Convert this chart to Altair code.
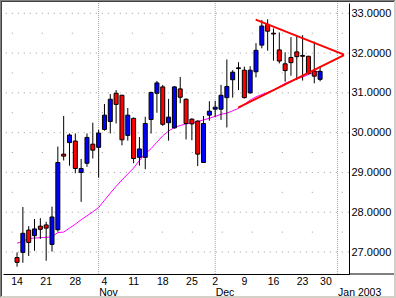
import altair as alt
import pandas as pd

# ---- data (trading-day index 0 = Oct 14, 2002) ----
opens = [26.86, 26.99, 27.55, 27.41, 27.65, 27.68, 27.19, 27.56, 29.46, 29.75,
         29.79, 29.00, 29.23, 29.71, 29.63, 30.08, 30.28, 30.99, 30.94, 29.93,
         30.36, 29.38, 29.38, 30.33, 30.99, 31.15, 30.25, 30.12, 31.10, 30.84,
         30.34, 30.29, 29.25, 30.44, 30.59, 30.59, 30.88, 31.33, 31.63, 31.57,
         31.00, 31.53, 32.20, 32.72, 32.50, 32.08, 31.73, 31.89, 32.03, 31.94,
         31.92, 31.55, 31.34]
highs = [26.99, 28.13, 27.65, 27.83, 27.85, 27.76, 28.14, 29.65, 30.42, 29.98,
         29.98, 29.34, 29.98, 30.25, 30.07, 30.72, 30.97, 31.07, 30.95, 30.62,
         30.38, 29.89, 30.40, 31.03, 31.30, 31.20, 30.85, 31.17, 31.40, 30.86,
         30.36, 30.31, 30.42, 30.79, 30.80, 31.20, 31.84, 31.57, 31.77, 31.66,
         31.67, 32.25, 32.83, 32.85, 32.62, 32.52, 32.02, 32.40, 32.44, 32.45,
         31.93, 32.29, 31.66]
lows = [26.63, 26.73, 26.90, 27.03, 27.33, 26.78, 27.01, 27.51, 29.30, 29.17,
        28.98, 28.26, 29.14, 29.35, 28.87, 30.05, 29.98, 30.23, 29.68, 29.80,
        29.23, 29.17, 29.08, 29.98, 30.50, 30.17, 29.80, 30.10, 30.74, 29.83,
        29.81, 29.16, 29.24, 30.30, 30.40, 30.32, 30.13, 30.88, 31.07, 30.86,
        30.98, 31.39, 32.12, 32.06, 31.81, 31.74, 31.28, 31.43, 31.32, 31.31,
        31.46, 31.24, 31.29]
closes = [26.74, 27.47, 27.24, 27.58, 27.57, 27.60, 27.88, 29.25, 29.41, 29.94,
          29.10, 29.10, 29.88, 29.56, 29.99, 30.44, 30.84, 30.71, 29.82, 30.44,
          29.35, 29.59, 30.23, 31.01, 31.25, 30.21, 30.39, 31.15, 30.89, 30.23,
          30.22, 29.46, 30.23, 30.54, 30.64, 30.94, 31.16, 31.52, 31.61, 30.88,
          31.57, 32.07, 32.68, 32.55, 32.48, 31.80, 31.56, 31.76, 31.91, 31.92,
          31.49, 31.42, 31.54]
ma = [27.22, 27.27, 27.34, 27.35, 27.36, 27.37, 27.38, 27.49, 27.50, 27.60,
      27.70, 27.81, 27.91, 28.01, 28.12, 28.30, 28.48, 28.65, 28.81, 28.96,
      29.11, 29.30, 29.47, 29.60, 29.76, 29.92, 30.04, 30.13, 30.18, 30.22,
      30.24, 30.28, 30.32, 30.36, 30.41, 30.46, 30.49, 30.55, 30.61, 30.71,
      30.82, 30.90, 30.96, 31.01, 31.07, 31.15, 31.24, 31.30, 31.35, 31.40,
      31.46, 31.52, 31.55]

tick_idx = [0, 5, 10, 15, 20, 25, 30, 34, 39, 44, 49, 53]
tick_labels = ["14", "21", "28", "4", "11", "18", "25", "2", "9", "16", "23", "30"]
month_idx = [14, 34, 55]
month_labels = ["Nov", "Dec", "Jan 2003"]

upper_x = [40.95, 56.1]
upper_y = [32.84, 31.96]
lower_x = [37.95, 56.1]
lower_y = [30.63, 31.95]

y_labels = [27, 28, 29, 30, 31, 32, 33]
half_levels = [27.5, 28.5, 29.5, 30.5, 31.5, 32.5]

W, H = 346, 271
FONT = "Liberation Sans"

# ---- tables ----
candles = pd.DataFrame({"idx": list(range(len(opens))), "open": opens, "high": highs,
                        "low": lows, "close": closes, "ma": ma})
trend = pd.DataFrame({"x": upper_x + lower_x, "y": upper_y + lower_y,
                      "line": ["upper"] * 2 + ["lower"] * 2})
ticks_df = pd.DataFrame({"idx": tick_idx, "label": tick_labels})
months_df = pd.DataFrame({"idx": month_idx, "label": month_labels})
grid_int = pd.DataFrame({"level": y_labels})
grid_half = pd.DataFrame({"level": half_levels})
one = alt.Data(values=[{"k": 1}])

xs = alt.Scale(domain=[-1.55, 56.1], nice=False, zero=False)
ys = alt.Scale(domain=[26.447, 33.259], nice=False, zero=False)
xaxis = alt.Axis(title=None, labels=False, ticks=False, grid=False,
                 domainColor="black", domainWidth=1, zindex=2)
yaxis = alt.Axis(orient="right", title=None, values=y_labels, format=".4f",
                 ticks=False, grid=False, labelPadding=2, labelFont=FONT,
                 labelFontSize=11, labelColor="black", labelAlign="left",
                 labelBaseline="middle", domainColor="black", domainWidth=1, zindex=2)


def X(f):
    return alt.X(f, type="quantitative", scale=xs, axis=xaxis)


def Y(f):
    return alt.Y(f, type="quantitative", scale=ys, axis=yaxis)


# ---- frame ----
inner = alt.Chart(one).mark_rect(fill="white").encode(
    x=alt.value(-1), x2=alt.value(391), y=alt.value(-1), y2=alt.value(293))
top0 = alt.Chart(one).mark_rule(color="#808080").encode(
    x=alt.value(-3), x2=alt.value(392), y=alt.value(-2.5))
left0 = alt.Chart(one).mark_rule(color="#808080").encode(
    x=alt.value(-2.5), y=alt.value(-3), y2=alt.value(294))
top1 = alt.Chart(one).mark_rule(color="#404040").encode(
    x=alt.value(-2), x2=alt.value(391), y=alt.value(-1.5))
left1 = alt.Chart(one).mark_rule(color="#404040").encode(
    x=alt.value(-1.5), y=alt.value(-2), y2=alt.value(293))
axis_ext = alt.Chart(one).mark_rule(color="black").encode(
    x=alt.value(W), x2=alt.value(391), y=alt.value(H))

# ---- grid ----
g_int = alt.Chart(grid_int).mark_rule(color="#999999", strokeDash=[1, 5],
                                      strokeDashOffset=3.2).encode(
    y=Y("level"), x=alt.value(0), x2=alt.value(W))
g_half = alt.Chart(grid_half).mark_rule(color="#999999", strokeDash=[1, 29],
                                        strokeDashOffset=21.2).encode(
    y=Y("level"), x=alt.value(0), x2=alt.value(W))
g_month = alt.Chart(months_df).mark_rule(color="#A0A0A0", strokeDash=[1, 1]).encode(
    x=X("idx"), y=alt.value(0), y2=alt.value(H))

# ---- series ----
ma_line = alt.Chart(candles).mark_line(color="#FF00FF", strokeWidth=1).encode(
    x=X("idx"), y=Y("ma"))
wicks = alt.Chart(candles).mark_rule(color="black", strokeWidth=1).encode(
    x=X("idx"), y=Y("low"), y2="high")
bodies = alt.Chart(candles).mark_bar(size=4, stroke="black", strokeWidth=1).encode(
    x=X("idx"), y=Y("open"), y2="close",
    fill=alt.condition("datum.close > datum.open", alt.value("#0000FF"), alt.value("#FF0000")))
trend_lines = alt.Chart(trend).mark_line(color="#FF0000", strokeWidth=2).encode(
    x=X("x"), y=Y("y"), detail="line:N")

# ---- x labels ----
day_text = alt.Chart(ticks_df).mark_text(align="center", baseline="alphabetic",
                                         font=FONT, fontSize=10.5, color="black").encode(
    x=X("idx"), y=alt.value(H + 11), text="label:N")
month_text = alt.Chart(months_df).mark_text(align="left", baseline="alphabetic",
                                            font=FONT, fontSize=10.5, color="black", dx=0.5).encode(
    x=X("idx"), y=alt.value(H + 22), text="label:N")

chart = alt.layer(
    inner, top0, left0, top1, left1,
    g_int, g_half, g_month,
    ma_line, wicks, bodies, trend_lines,
    day_text, month_text, axis_ext,
).properties(
    width=W, height=H,
    padding={"left": 3, "top": 3, "right": 47, "bottom": 24},
    autosize=alt.AutoSizeParams(type="none"),
).configure(background="#D4D0C8").configure_view(stroke=None)

chart.save("out.html", embed_options={"renderer": "svg", "actions": False})
